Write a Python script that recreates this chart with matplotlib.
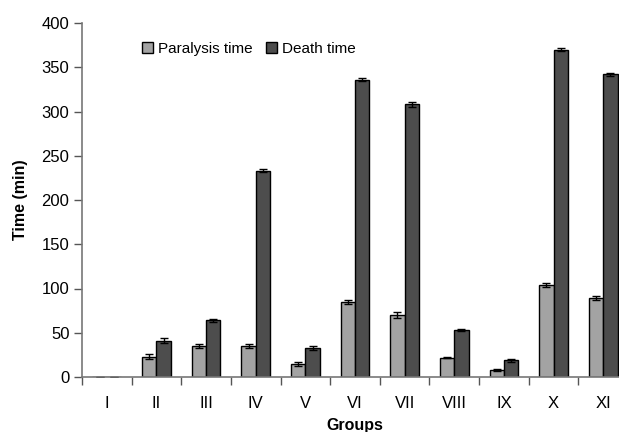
import numpy as np
import matplotlib

matplotlib.use("Agg")
import matplotlib.pyplot as plt

plt.rcParams["font.family"] = ["Liberation Sans", "DejaVu Sans"]

groups = ["I", "II", "III", "IV", "V", "VI", "VII", "VIII", "IX", "X", "XI"]
paralysis = [0, 23, 35, 35, 15, 85, 70, 22, 8, 104, 89]
paralysis_err = [0, 3, 2.5, 2, 2.5, 2, 3, 1, 1.5, 2.5, 2]
death = [0, 41, 64, 233, 33, 336, 308, 53, 19, 370, 342]
death_err = [0, 3, 2, 1.5, 2, 1.5, 2.5, 1, 1.5, 1.5, 1.5]

fig = plt.figure(figsize=(6.19, 4.32), dpi=100)
ax = fig.add_axes([82 / 619, 1 - 377 / 432, 546 / 619, 354 / 432])

x = np.arange(len(groups))
w = 0.29
err_kw = dict(ecolor="black", capsize=3, elinewidth=1, capthick=1)
ax.bar(x - w / 2, paralysis, w, yerr=paralysis_err, color="#a3a3a3",
       edgecolor="black", linewidth=1, label="Paralysis time", error_kw=err_kw)
ax.bar(x + w / 2, death, w, yerr=death_err, color="#4d4d4d",
       edgecolor="black", linewidth=1, label="Death time", error_kw=err_kw)

ax.set_xlim(-0.5, len(groups) - 0.5)
ax.set_ylim(0, 400)
ax.set_yticks(range(0, 401, 50))
ax.set_xticks(x)
ax.set_xticklabels(groups)
ax.set_xticks(np.arange(-0.5, len(groups), 1), minor=True)
ax.tick_params(axis="x", which="major", length=0, pad=14, labelsize=12)
ax.tick_params(axis="x", which="minor", length=6, width=1, color="#555555", direction="out")
ax.tick_params(axis="y", length=6, width=1, color="#555555", labelsize=12, pad=3)

for side in ["top", "right"]:
    ax.spines[side].set_visible(False)
for side in ["left", "bottom"]:
    ax.spines[side].set_color("#777777")
    ax.spines[side].set_linewidth(1.2)

ax.set_ylabel("Time (min)", fontweight="bold", fontsize=11.5, labelpad=10)
ax.set_xlabel("Groups", fontweight="bold", fontsize=11.5, labelpad=5)

ax.legend(loc="upper left", bbox_to_anchor=(0.084, 0.985), ncols=2, frameon=False,
          fontsize=11, handlelength=0.75, handleheight=0.75, handletextpad=0.3,
          columnspacing=0.9)

fig.savefig("out.png", dpi=100)
